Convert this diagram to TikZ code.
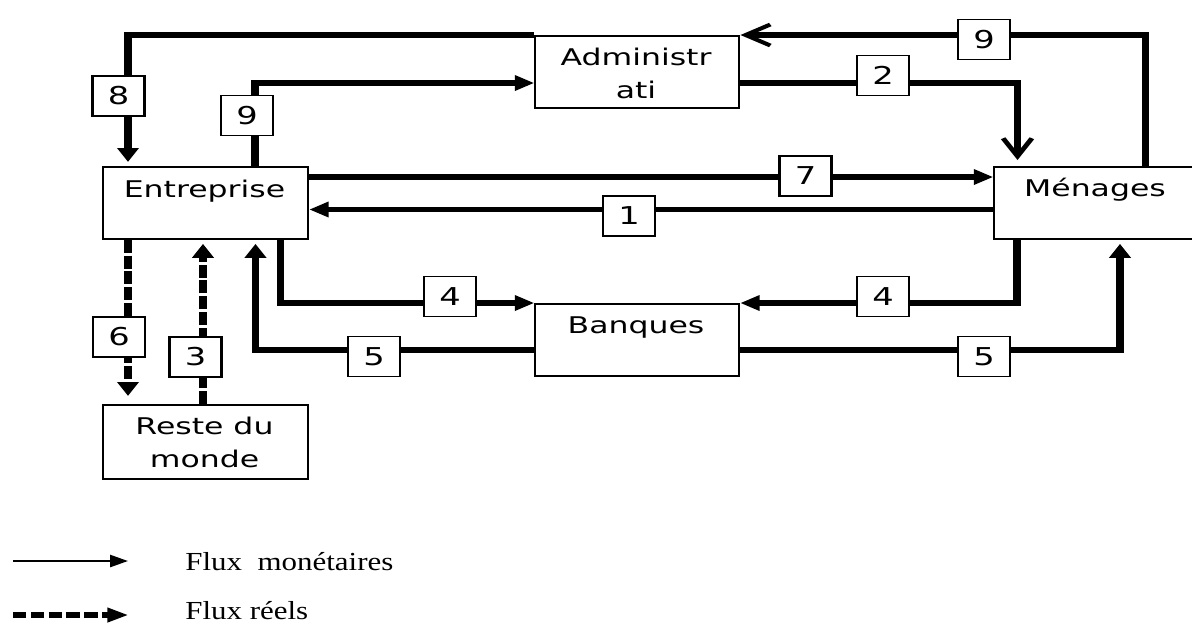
\documentclass[tikz,border=0pt]{standalone}
\usepackage{fontspec}
\usetikzlibrary{arrows.meta}
\newfontfamily\dvs{DejaVu Sans}
\newfontfamily\lser[FakeStretch=1.19]{Liberation Serif}
\begin{document}
\begin{tikzpicture}[x=0.5pt,y=-0.5pt]
\useasboundingbox (0,0) rectangle (1192,623);
\begin{scope}[x=0.364964pt, transform canvas={xscale=1.37},
  box/.style={draw, line width=0.9pt, fill=white, inner sep=0, anchor=north west,
    minimum width={#1*0.364964pt}, minimum height=36pt},
  txt/.style={font=\dvs\fontsize{11.5}{14}\selectfont, anchor=base, inner sep=0},
  lbl/.style={draw, line width=0.8pt, fill=white, inner sep=0,
    minimum width={52*0.364964pt}, minimum height=20pt,
    font=\dvs\fontsize{12.3}{14}\selectfont},
  flow/.style={line width=2.6pt, -{Triangle[length=7pt,width=7.5pt]}},
  barb/.style={line width=2.6pt, -{Straight Barb[length=9pt,width=10.5pt,line width=1.9pt]}},
  dflow/.style={line width=2.6pt, dash pattern=on 6.5pt off 1.4pt, -{Triangle[length=7pt,width=7.5pt]}}]
% boxes
\node[box=204] (adm) at (534,35) {};
\node[box=205] (ent) at (102,166) {};
\node[box=205] (men) at (993,166) {};
\node[box=204] (ban) at (534,303) {};
\node[box=205, minimum height=37pt] (res) at (102,404) {};
% box texts
\node[txt] (admA) at (636,65) {Administr};
\node[txt] (admB) at (636,98) {ati};
\node[txt] (entT) at (204.5,197) {Entreprise};
\node[txt] (menT) at (1095,196) {Ménages};
\node[txt] (banT) at (636,333) {Banques};
\node[txt] (resA) at (204.5,434) {Reste du};
\node[txt] (resB) at (204.5,467) {monde};
% helper coordinates
\coordinate (x8) at (128,0);
\coordinate (x9l) at (255,0);
\coordinate (x2) at (1017.5,0);
\coordinate (x9r) at (1145.5,0);
\coordinate (x4l) at (280.5,0);
\coordinate (x5l) at (255.5,0);
\coordinate (x6) at (128,0);
\coordinate (x3) at (203,0);
\coordinate (x4r) at (1017,0);
\coordinate (x5r) at (1120,0);
\coordinate (y9) at (0,83);
\coordinate (y7) at (0,177);
\coordinate (y1) at (0,209.5);
\coordinate (y5) at (0,350);
% connectors
\draw[flow, shorten >=2pt] (adm.north west) -| (x8 |- ent.north);
\draw[flow] (x9l |- ent.north) |- (adm.west |- y9);
\draw[barb, shorten >=3pt] (adm.east |- y9) -| (x2 |- men.north);
\draw[barb] (x9r |- men.north) |- (adm.north east);
\draw[flow] (ent.east |- y7) -- (men.west |- y7);
\draw[flow] (men.west |- y1) -- (ent.east |- y1);
\draw[flow] (x4l |- ent.south) |- (ban.north west);
\draw[flow] (x4r |- men.south) |- (ban.north east);
\draw[flow, shorten >=2pt] (ban.west |- y5) -| (x5l |- ent.south);
\draw[flow, shorten >=2pt] (ban.east |- y5) -| (x5r |- men.south);
\draw[dflow, shorten >=4pt] (x6 |- ent.south) -- (x6 |- res.north);
\draw[dflow, shorten >=2pt] (x3 |- res.north) -- (x3 |- ent.south);
% labels
\node[lbl] (l8) at (118.5,96) {8};
\node[lbl] (l9a) at (247,115.5) {9};
\node[lbl] (l2) at (883,75.5) {2};
\node[lbl] (l9b) at (984,39.5) {9};
\node[lbl] (l7) at (805.5,176) {7};
\node[lbl] (l1) at (629,216) {1};
\node[lbl] (l4a) at (450,296.5) {4};
\node[lbl] (l4b) at (883,296.5) {4};
\node[lbl] (l5a) at (374,356.5) {5};
\node[lbl] (l5b) at (984,356.5) {5};
\node[lbl] (l6) at (119,337) {6};
\node[lbl] (l3) at (195.5,357) {3};
% legend arrows
\coordinate (lm1) at (13,561);
\coordinate (lm2) at (128,561);
\coordinate (lr1) at (13,615);
\coordinate (lr2) at (128,615);
\draw[line width=1.1pt, -{Triangle[length=6.5pt,width=6pt]}] (lm1) -- (lm2);
\draw[line width=3.2pt, dash pattern=on 4.9pt off 1.6pt, -{Triangle[length=7.5pt,width=7pt]}] (lr1) -- (lr2);
\end{scope}
% legend texts
\node[anchor=base west, inner sep=0, font=\lser\fontsize{13}{15}\selectfont] (legM) at (185,570) {Flux\ \ monétaires};
\node[anchor=base west, inner sep=0, font=\lser\fontsize{13}{15}\selectfont] (legR) at (185,619.5) {Flux réels};
\end{tikzpicture}
\end{document}
